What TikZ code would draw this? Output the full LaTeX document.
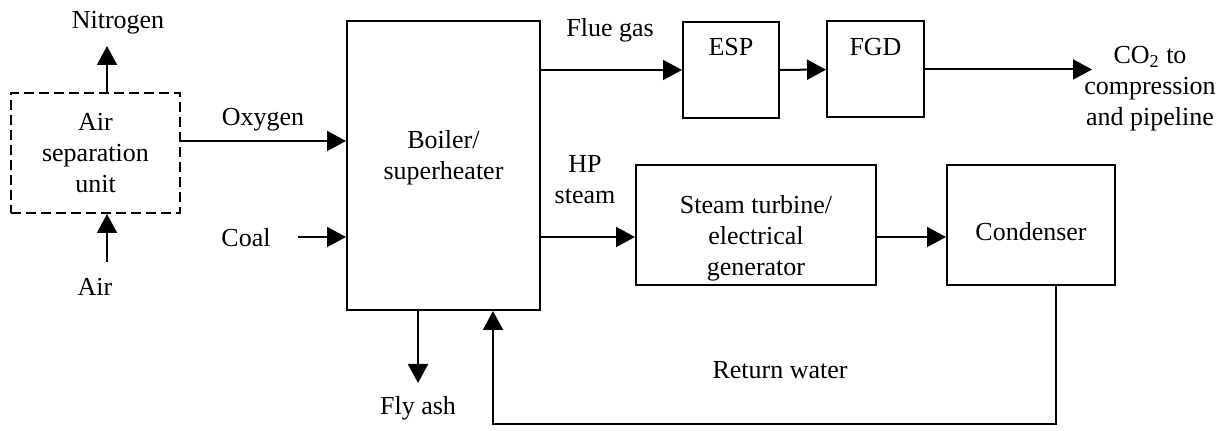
\documentclass[tikz,border=0pt]{standalone}
\usepackage{fontspec}
\setmainfont{Liberation Serif}
\usetikzlibrary{arrows.meta}

\begin{document}
\begin{tikzpicture}[
  x=0.5pt, y=-0.5pt,
  font=\fontsize{13}{15.5}\selectfont,
  box/.style={draw,line width=1pt,inner sep=2pt,align=center},
  lbl/.style={align=center,inner sep=1pt},
  arrow/.style={-{Triangle[length=9.5pt,width=10pt]},line width=1pt}
]
  \useasboundingbox (0,0) rectangle (1225,431);

  % units
  \node[box,dash pattern=on 5pt off 2.5pt,minimum width=84.5pt,minimum height=60pt] (asu) at (95.5,153) {Air\\separation\\unit};
  \node[box,minimum width=96.5pt,minimum height=144.5pt,
        label={[lbl,yshift=4pt]center:{Boiler/\\superheater}}] (boiler) at (443.5,165.5) {};
  \node[box,minimum width=48pt,minimum height=48pt,
        label={[lbl,anchor=north,yshift=-7.5pt]north:ESP}] (esp) at (731,70) {};
  \node[box,minimum width=48.5pt,minimum height=48pt,
        label={[lbl,anchor=north,yshift=-7.5pt]north:FGD}] (fgd) at (875.5,69.5) {};
  \node[box,minimum width=120pt,minimum height=60pt,
        label={[lbl,yshift=-6.5pt]center:{Steam turbine/\\electrical\\generator}}] (turbine) at (756,225) {};
  \node[box,minimum width=84pt,minimum height=60pt,
        label={[lbl,yshift=-3.5pt]center:Condenser}] (condenser) at (1031,225) {};

  % stream labels
  \node[lbl] (nitrogen) at (118,23) {Nitrogen};
  \node[lbl] (air) at (95,287) {Air};
  \node[lbl] (oxygen) at (263,120) {Oxygen};
  \node[lbl] (coal) at (246,238) {Coal};
  \node[lbl] (flue) at (610,30) {Flue gas};
  \node[lbl] (co2) at (1150,89) {CO\textsubscript{2} to\\compression\\and pipeline};
  \node[lbl] (hpsteam) at (585,180) {HP\\steam};
  \node[lbl] (flyash) at (418,408) {Fly ash};
  \node[lbl] (water) at (780,370) {Return water};

  \coordinate (ntip) at (107,46);
  \coordinate (ain) at (107,262);
  \coordinate (oxy) at (263,141);
  \coordinate (coalin) at (298,237);
  \coordinate (co2tip) at (1092,69);
  \coordinate (hp) at (590,237);
  \coordinate (ashtip) at (418,383);
  \coordinate (rw) at (1056,424);
  \coordinate (rb) at (493,424);

  \draw[arrow] (asu.north -| ntip) -- (ntip);
  \draw[arrow] (ain) -- (asu.south -| ain);
  \draw[arrow] (asu.east |- oxy) -- (boiler.west |- oxy);
  \draw[arrow] (coalin) -- (boiler.west |- coalin);
  \draw[arrow] (boiler.east |- esp.west) -- (esp.west);
  \draw[arrow] (esp) -- (fgd);
  \draw[arrow] (fgd.east) -- (fgd.east -| co2tip);
  \draw[arrow] (boiler.east |- hp) -- (turbine.west |- hp);
  \draw[arrow] (turbine.east |- hp) -- (condenser.west |- hp);
  \draw[arrow] (boiler.south -| ashtip) -- (ashtip);
  \draw[arrow] (condenser.south -| rw) -- (rw) -- (rb) -- (boiler.south -| rb);
\end{tikzpicture}
\end{document}
